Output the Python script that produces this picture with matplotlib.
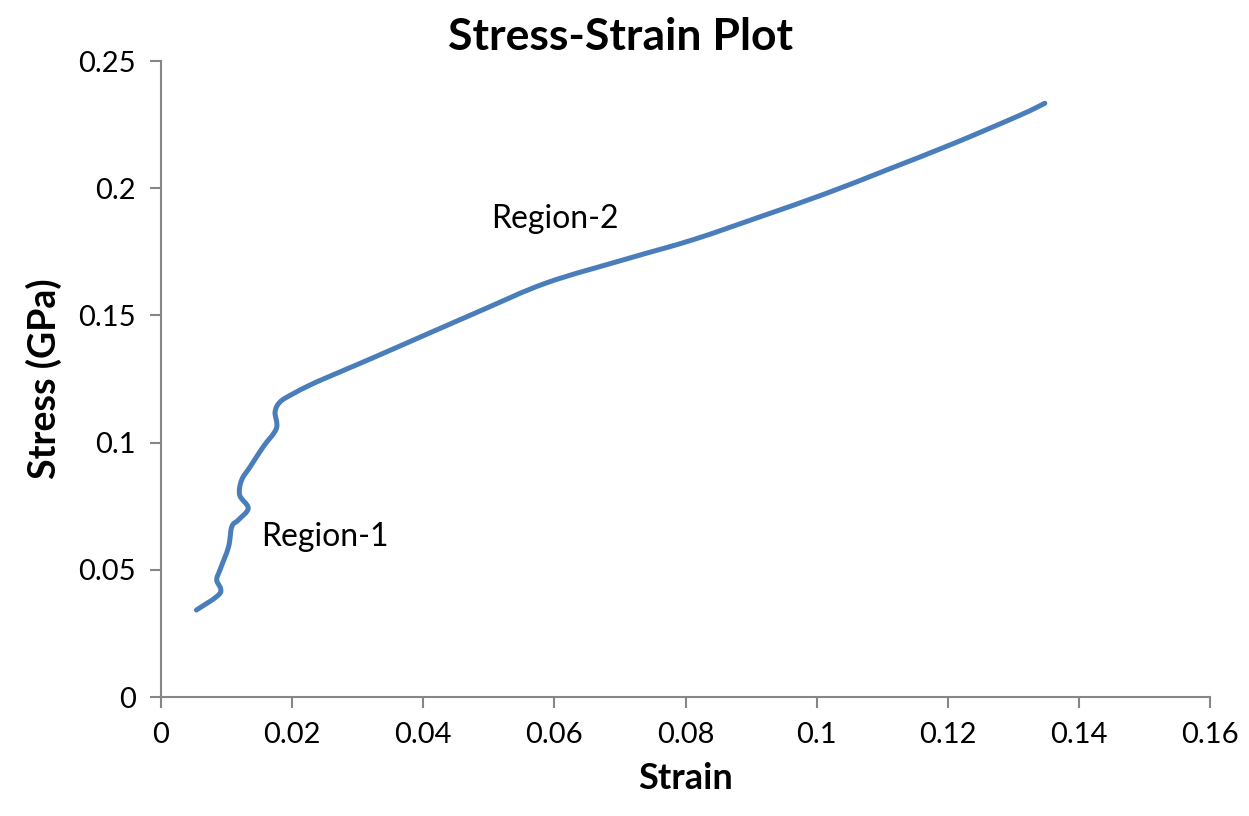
import matplotlib
matplotlib.use("Agg")
import numpy as np
from matplotlib import pyplot as plt
from matplotlib.path import Path
from matplotlib.patches import PathPatch
from matplotlib.ticker import FuncFormatter

plt.rcParams["font.family"] = ["Lato", "DejaVu Sans"]

strain = [
    0.0054, 0.0090, 0.0085, 0.0090, 0.0103, 0.0108, 0.0118, 0.0133,
    0.0120, 0.0123, 0.0136, 0.0156, 0.0176, 0.0174, 0.0182, 0.0202,
    0.0227, 0.0253, 0.0304, 0.0354, 0.0487, 0.0588, 0.0710, 0.0812,
    0.0914, 0.1015, 0.1107, 0.1209, 0.1311, 0.1348,
]
stress = [
    0.0342, 0.0408, 0.0460, 0.0500, 0.0590, 0.0670, 0.0696, 0.0742,
    0.0794, 0.0853, 0.0905, 0.0984, 0.1056, 0.1121, 0.1161, 0.1193,
    0.1226, 0.1256, 0.1312, 0.1368, 0.1518, 0.1628, 0.1722, 0.1798,
    0.1888, 0.1980, 0.2072, 0.2176, 0.2288, 0.2334,
]

regions = ["Region-1", "Region-2"]
region_x = [0.025, 0.060]
region_y = [0.0629, 0.188]

x_ticks = [0, 0.02, 0.04, 0.06, 0.08, 0.1, 0.12, 0.14, 0.16]
y_ticks = [0, 0.05, 0.1, 0.15, 0.2, 0.25]

axis_gray = "#868686"


def smooth_path(xs, ys):
    # Catmull-Rom through the points, written as cubic Bezier segments
    pts = np.column_stack([xs, ys])
    padded = np.vstack([pts[0], pts, pts[-1]])
    verts = [pts[0]]
    codes = [Path.MOVETO]
    for i in range(1, len(padded) - 2):
        p0, p1, p2, p3 = padded[i - 1], padded[i], padded[i + 1], padded[i + 2]
        verts += [p1 + (p2 - p0) / 6, p2 - (p3 - p1) / 6, p2]
        codes += [Path.CURVE4] * 3
    return Path(verts, codes)


fig = plt.figure(figsize=(12.49, 8.16), dpi=100)
ax = fig.add_axes([0.1289, 0.1458, 0.8399, 0.7794])

ax.add_patch(PathPatch(smooth_path(strain, stress), facecolor="none",
                       edgecolor="#4A7EBB", lw=3.6, capstyle="round",
                       joinstyle="round"))

for label, x, y in zip(regions, region_x, region_y):
    ax.text(x, y, label, fontsize=23, ha="center", va="center")

ax.set_xlim(0, 0.16)
ax.set_ylim(0, 0.25)
ax.set_xticks(x_ticks)
ax.set_yticks(y_ticks)
fmt = FuncFormatter(lambda v, pos: f"{v:g}")
ax.xaxis.set_major_formatter(fmt)
ax.yaxis.set_major_formatter(fmt)

for side in ["top", "right"]:
    ax.spines[side].set_visible(False)
for side in ["left", "bottom"]:
    ax.spines[side].set_color(axis_gray)
    ax.spines[side].set_linewidth(1.5)
ax.tick_params(direction="out", length=8, width=1.5, color=axis_gray,
               labelsize=21, pad=10)

ax.set_xlabel("Strain", fontsize=26, fontweight="bold", labelpad=10)
ax.set_ylabel("Stress (GPa)", fontsize=27, fontweight="bold", labelpad=12)
fig.text(0.497, 0.955, "Stress-Strain Plot", fontsize=32,
         fontweight="bold", ha="center", va="center")

fig.savefig("out.png", dpi=100)
